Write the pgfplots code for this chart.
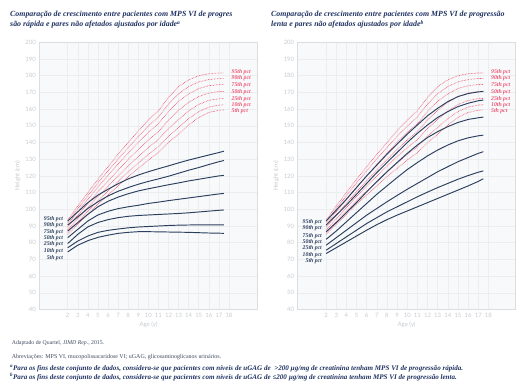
\documentclass[border=0pt]{standalone}
\usepackage{pgfplots}
\pgfplotsset{compat=1.18}
\usepackage{pgfplotstable}
\usepackage{fontspec}
\setmainfont{Liberation Serif}
\newfontfamily\tickfont{Lato}
\definecolor{navy}{HTML}{2B3F5E}
\definecolor{pinkc}{HTML}{EE5574}
\definecolor{tickgray}{HTML}{C6CACF}
\definecolor{gridgray}{HTML}{EBEDEF}
\definecolor{bggray}{HTML}{F8F9FA}
\definecolor{titlenavy}{HTML}{1E3160}
\definecolor{notegray}{HTML}{3E4A5E}

\pgfplotstableread{
age p5 p10 p25 p50 p75 p90 p95
2 85 86.2 87.6 89.3 90.9 92.2 93.5
3 91 92.5 94.4 96.5 98.6 100.4 102
4 97 98.8 101.0 103.5 106.0 108.1 110
5 103 105.1 107.7 110.5 113.4 115.8 118
6 108.5 110.9 113.8 117 120.2 123.0 125.5
7 114 116.7 119.9 123.5 127.1 130.2 133
8 119.5 122.4 125.9 129.8 133.6 136.9 140
9 124.5 127.7 131.5 135.8 140.0 143.6 147
10 129.5 132.9 136.9 141.5 146.1 149.9 153.5
11 134 137.5 141.8 146.5 151.3 155.3 159
12 140 143.8 148.4 153.5 158.6 163.0 167
13 145 149.0 153.8 159.3 164.7 169.2 173.5
14 150.5 154.3 158.9 164 169.1 173.5 177.5
15 155 158.5 162.8 167.5 172.3 176.3 180
16 158 161.2 165.2 169.6 174.0 177.7 181.2
17 159.3 162.4 166.2 170.5 174.7 178.3 181.6
17.5 159.5 162.6 166.4 170.6 174.8 178.4 181.7
}\pinkT

\pgfplotstableread{
age p5 p10 p25 p50 p75 p90 p95
2 74.5 77 79.5 83 87 90.5 93
3 78.5 81 85 88 92 95.5 98.5
4 81.2 84 89.5 93 97 100.5 104
5 83.2 86.2 92.1 96.6 101.5 104.5 108.5
6 84.5 87.4 93.8 98.8 104.8 108 112
7 85.6 88.2 95 100.4 107.3 110.8 115.3
8 86.2 88.9 95.8 101.5 109.3 113 118.2
9 86.6 89.4 96.3 102.4 111 115 120.5
10 86.6 89.7 96.6 103.5 112.3 116.7 122.5
11 86.5 90 96.9 104.3 113.5 118.2 124.3
12 86.4 90.3 97.2 105.2 114.7 119.8 126
13 86.3 90.5 97.5 106 115.8 121.6 127.8
14 86.2 90.6 97.9 106.8 117 123.4 129.5
15 86 90.7 98.4 107.6 118 125 131
16 85.8 90.7 98.9 108.4 119 126.8 132.5
17 85.7 90.7 99.4 109.2 120 128.5 134
17.5 85.6 90.7 99.6 109.5 120.3 129.2 134.8
}\fastT

\pgfplotstableread{
age p5 p10 p25 p50 p75 p90 p95
2 73.5 75.5 78.5 82 86.5 90.5 93
3 77 79.5 83 87 92 96.5 99.5
4 80.5 83.5 87.5 92.5 98 102.5 106
5 84 87.5 92 98 104 109 113
6 87.5 91.5 96.5 103.5 110.5 115.5 120
7 90.8 95 100.5 109 116.5 122 126.5
8 93.8 98.5 104.5 114 122.5 128 133
9 96.5 101.5 108.3 119 128 134 139
10 99 104.5 112 123.8 133.5 140 145
11 101.5 107.5 115.5 128 138.5 145.5 150.5
12 104 110.3 119 132 143 150.5 156
13 106.5 113 122.5 135.5 146.5 155 160.5
14 109 115.5 125.5 138.5 149.5 158.5 164.5
15 111.5 118 128.5 141 152 161.5 167.5
16 114 120.2 131 142.8 153.8 163.5 169.3
17 116.7 122.2 133.5 144 154.8 165 170.3
17.5 118.3 123 134.5 144.4 155.2 165.4 170.6
}\slowT

\tikzset{
  pinkline/.style={pinkc, line width=0.7pt, dash pattern=on 0.6pt off 0.9pt},
  navyline/.style={navy, line width=0.95pt},
  pctn/.style={font=\fontsize{5.8}{6}\selectfont\bfseries\itshape, text=navy, anchor=east, inner sep=0pt},
  pctp/.style={font=\fontsize{5.8}{6}\selectfont\bfseries\itshape, text=pinkc, anchor=west, inner sep=0pt},
  ttl/.style={anchor=base west, inner sep=0pt, font=\fontsize{7.9}{9}\selectfont\bfseries\itshape, text=titlenavy},
  fn/.style={anchor=base west, inner sep=0pt, font=\fontsize{7.1}{8}\selectfont\bfseries\itshape, text=titlenavy},
}
\pgfplotsset{
  growth/.style={
    scale only axis, height=267.2bp,
    ymin=40, ymax=200, ytick={40,50,...,200},
    xtick={2,...,18},
    grid=major, major grid style={draw=gridgray, line width=0.5pt},
    axis background/.style={fill=bggray},
    axis line style={draw=gridgray!85!gray, line width=0.6pt},
    major tick length=0pt,
    ticklabel style={font=\tickfont\fontsize{6}{7}\selectfont, text=tickgray},
    /pgf/number format/assume math mode=true,
    xlabel={Age (y)}, ylabel={Height (cm)},
    label style={font=\tickfont\fontsize{6}{7}\selectfont, text=tickgray},
    xlabel style={yshift=2bp},
    ylabel style={yshift=-2bp},
    clip=false,
  },
}

\begin{document}
\begin{tikzpicture}
\useasboundingbox (0,0) rectangle (522bp,390bp);

% titles
\node[ttl] at (10bp,373bp) {Comparação de crescimento entre pacientes com MPS VI de progres};
\node[ttl] at (10bp,363bp) {são rápida e pares não afetados ajustados por idade\textsuperscript{a}};
\node[ttl] at (271bp,373bp) {Comparação de crescimento entre pacientes com MPS VI de progressão};
\node[ttl] at (271bp,363bp) {lenta e pares não afetados ajustados por idade\textsuperscript{b}};

% left: rapid progression
\begin{axis}[growth, at={(39.3bp,80.5bp)}, anchor=south west, width=218.4bp, xmin=-0.82, xmax=20.85]
\pgfplotsinvokeforeach{p5,p10,p25,p50,p75,p90,p95}{\addplot[pinkline] table[x=age,y=#1]{\pinkT};}
\pgfplotsinvokeforeach{p5,p10,p25,p50,p75,p90,p95}{\addplot[navyline] table[x=age,y=#1]{\fastT};}
\node[pctn] at (axis cs:1.55,94.4) {95th pct};
\node[pctn] at (axis cs:1.55,90.5) {90th pct};
\node[pctn] at (axis cs:1.55,86.6) {75th pct};
\node[pctn] at (axis cs:1.55,82.6) {50th pct};
\node[pctn] at (axis cs:1.55,78.9) {25th pct};
\node[pctn] at (axis cs:1.55,74.9) {10th pct};
\node[pctn] at (axis cs:1.55,70.8) {5th pct};
\node[pctp] at (axis cs:18.25,182.2) {95th pct};
\node[pctp] at (axis cs:18.25,178.3) {90th pct};
\node[pctp] at (axis cs:18.25,174.3) {75th pct};
\node[pctp] at (axis cs:18.25,170.4) {50th pct};
\node[pctp] at (axis cs:18.25,166.2) {25th pct};
\node[pctp] at (axis cs:18.25,162.6) {10th pct};
\node[pctp] at (axis cs:18.25,159.0) {5th pct};
\end{axis}

% right: slow progression
\begin{axis}[growth, at={(297.7bp,80.5bp)}, anchor=south west, width=217.8bp, xmin=-0.8, xmax=20.67]
\pgfplotsinvokeforeach{p5,p10,p25,p50,p75,p90,p95}{\addplot[pinkline] table[x=age,y=#1]{\pinkT};}
\pgfplotsinvokeforeach{p5,p10,p25,p50,p75,p90,p95}{\addplot[navyline] table[x=age,y=#1]{\slowT};}
\node[pctn] at (axis cs:1.6,92.1) {95th pct};
\node[pctn] at (axis cs:1.6,88.8) {90th pct};
\node[pctn] at (axis cs:1.6,84.2) {75th pct};
\node[pctn] at (axis cs:1.6,80.2) {50th pct};
\node[pctn] at (axis cs:1.6,76.7) {25th pct};
\node[pctn] at (axis cs:1.6,72.8) {10th pct};
\node[pctn] at (axis cs:1.6,68.8) {5th pct};
\node[pctp] at (axis cs:18.25,182.2) {95th pct};
\node[pctp] at (axis cs:18.25,178.3) {90th pct};
\node[pctp] at (axis cs:18.25,174.3) {75th pct};
\node[pctp] at (axis cs:18.25,170.4) {50th pct};
\node[pctp] at (axis cs:18.25,166.2) {25th pct};
\node[pctp] at (axis cs:18.25,162.6) {10th pct};
\node[pctp] at (axis cs:18.25,159.0) {5th pct};
\end{axis}

% notes
\node[anchor=base west, inner sep=0pt, font=\fontsize{5.8}{7}\selectfont, text=notegray] at (11.7bp,45bp) {Adaptado de Quartel, \textit{JIMD Rep.}, 2015.};
\node[anchor=base west, inner sep=0pt, font=\fontsize{6}{7}\selectfont, text=notegray] at (11.7bp,32bp) {Abreviações: MPS VI, mucopolissacaridose VI; uGAG, glicosaminoglicanos urinários.};
\node[fn] at (10bp,19.5bp) {\textsuperscript{a}Para os fins deste conjunto de dados, considera-se que pacientes com níveis de uGAG de \ >200 µg/mg de creatinina tenham MPS VI de progressão rápida.};
\node[fn] at (10bp,10bp) {\textsuperscript{b}Para os fins deste conjunto de dados, considera-se que pacientes com níveis de uGAG de ≤200 µg/mg de creatinina tenham MPS VI de progressão lenta.};
\end{tikzpicture}
\end{document}
